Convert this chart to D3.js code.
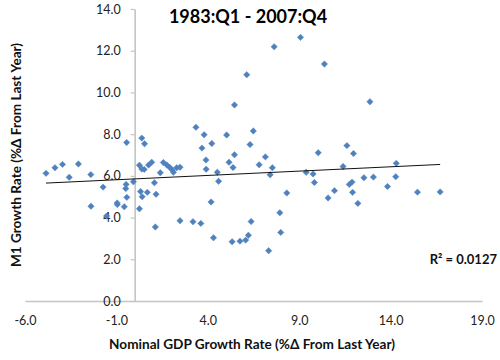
<!DOCTYPE html>
<html><head><meta charset="utf-8">
<script src="https://cdn.jsdelivr.net/npm/d3@7"></script>
<style>body{margin:0;background:#fff}svg{display:block}</style>
</head><body>
<svg id="c" width="500" height="360"></svg>
<script>
// Nominal GDP growth (x) and M1 growth (y), % change from last year
const gdpGrowth = [-4.85,-4.36,-3.95,-3.58,-3.08,-2.40,-0.44,-1.73,-0.47,-0.49,-2.39,-0.96,-0.95,-0.57,-0.43,-1.54,-0.07,
 0.39,0.54,0.26,0.39,0.52,0.76,0.93,1.40,1.57,1.76,1.91,2.06,2.12,2.30,2.48,0.32,0.41,0.69,1.08,1.17,0.26,1.13,2.48,3.19,3.62,
 3.35,3.80,3.68,4.22,3.90,3.91,4.52,4.18,4.31,4.59,5.03,5.16,5.46,5.38,5.46,5.33,5.76,6.07,6.22,6.37,6.13,6.31,6.49,
 7.63,9.07,10.38,12.87,7.15,6.81,7.53,7.41,9.38,9.76,10.04,11.61,11.97,11.40,12.54,13.06,14.28,14.31,13.83,15.47,16.71,
 9.83,8.32,10.58,10.93,11.74,11.89,11.92,12.21,7.94,7.99,7.33];
const m1Growth = [6.12,6.39,6.55,5.93,6.57,6.06,7.60,5.46,5.59,5.39,4.54,4.70,4.63,4.52,4.97,4.07,5.72,
 7.81,7.54,6.51,6.33,6.31,6.52,6.65,6.15,6.64,6.52,6.41,6.28,6.17,6.39,6.41,5.25,5.00,5.21,5.67,5.12,4.42,3.55,3.85,3.80,3.72,
 8.33,7.97,7.33,7.55,6.76,6.32,6.17,4.75,3.03,5.74,7.96,6.65,7.01,6.40,9.40,2.84,2.87,2.92,3.15,3.81,10.85,7.50,8.15,
 12.19,12.64,11.36,9.55,6.91,6.53,6.39,6.05,6.17,6.09,7.11,7.45,7.07,6.45,5.91,5.94,5.96,6.60,5.49,5.22,5.23,
 5.68,5.18,4.94,5.29,5.59,5.70,5.21,4.68,4.23,3.29,2.41];
const xTicks = [-6, -1, 4, 9, 14, 19];
const yTicks = [0, 2, 4, 6, 8, 10, 12, 14];
const titleText = "1983:Q1 - 2007:Q4";
const xTitle = "Nominal GDP Growth Rate (%\u0394 From Last Year)";
const yTitle = "M1 Growth Rate (%\u0394 From Last Year)";
const r2Text = "R\u00B2 = 0.0127";

const svg = d3.select("#c");
const font = "Lato, 'Open Sans', sans-serif";
const x = d3.scaleLinear().domain([-6, 19]).range([25, 482]);
const y = d3.scaleLinear().domain([0, 14]).range([301, 9]);
const fmt = v => d3.format(".1f")(v).replace("\u2212", "-");

// x axis (at y=0)
const gx = svg.append("g").attr("transform", `translate(0,${y(0)})`)
  .call(d3.axisBottom(x).tickValues(xTicks).tickSize(0).tickPadding(15).tickFormat(fmt));
gx.select(".domain").attr("stroke", "#c4c4c4").attr("stroke-width", 1.6);
gx.selectAll("text").attr("font-family", font).attr("font-size", 12.5).attr("fill", "#222");

// y axis (crosses at x=0)
const gy = svg.append("g").attr("transform", `translate(${x(0)},0)`)
  .call(d3.axisLeft(y).tickValues(yTicks).tickSizeInner(4).tickSizeOuter(0).tickPadding(10).tickFormat(fmt));
gy.select(".domain").attr("stroke", "#c4c4c4").attr("stroke-width", 1.6);
gy.selectAll(".tick line").attr("stroke", "#c4c4c4").attr("stroke-width", 1.2);
gy.selectAll("text").attr("font-family", font).attr("font-size", 12.5).attr("fill", "#222");

// points
const pts = gdpGrowth.map((g, i) => [g, m1Growth[i]]);
svg.append("g").selectAll("path").data(pts).join("path")
  .attr("transform", d => `translate(${x(d[0])},${y(d[1])})`)
  .attr("d", "M0,-3.2L3.2,0L0,3.2L-3.2,0Z")
  .attr("fill", "#4F81BD").attr("stroke", "#5a8bc6").attr("stroke-width", 0.5);

// linear trend line (least squares)
const mx = d3.mean(gdpGrowth), my = d3.mean(m1Growth);
let sxy = 0, sxx = 0;
gdpGrowth.forEach((g, i) => { sxy += (g - mx) * (m1Growth[i] - my); sxx += (g - mx) * (g - mx); });
const slope = sxy / sxx, icpt = my - slope * mx;
const [x0, x1] = d3.extent(gdpGrowth);
svg.append("line")
  .attr("x1", x(x0)).attr("y1", y(icpt + slope * x0))
  .attr("x2", x(x1)).attr("y2", y(icpt + slope * x1))
  .attr("stroke", "#111").attr("stroke-width", 1);

// titles
svg.append("text").attr("x", 248).attr("y", 23).attr("text-anchor", "middle")
  .attr("font-family", font).attr("font-weight", "bold").attr("font-size", 18).text(titleText);
svg.append("text").attr("x", 252).attr("y", 349).attr("text-anchor", "middle")
  .attr("font-family", font).attr("font-weight", "bold").attr("font-size", 13.6).attr("fill", "#111").text(xTitle);
svg.append("text").attr("transform", "translate(21,155) rotate(-90)").attr("text-anchor", "middle")
  .attr("font-family", font).attr("font-weight", "bold").attr("font-size", 13.6).attr("fill", "#111").text(yTitle);
svg.append("text").attr("x", 497).attr("y", 264).attr("text-anchor", "end")
  .attr("font-family", font).attr("font-weight", "bold").attr("font-size", 13).attr("fill", "#111").text(r2Text);
</script>
</body></html>
